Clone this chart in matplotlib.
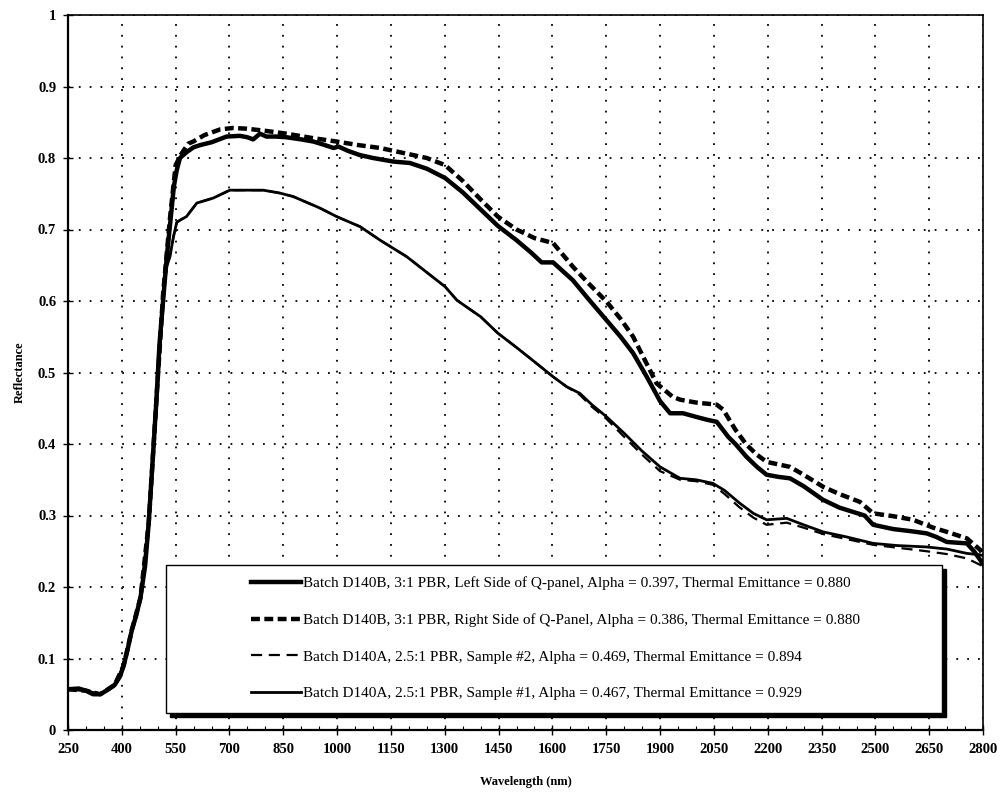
import matplotlib
matplotlib.use("Agg")
import matplotlib.pyplot as plt
from matplotlib.patches import Rectangle
import numpy as np

plt.rcParams['font.family'] = ['Liberation Serif', 'DejaVu Serif']

# D140B, left side of Q-panel (heavy solid)
wl_left = [250, 280, 300, 320, 340, 360, 380, 395, 405, 415, 428, 440, 452, 465, 475,
           485, 495, 505, 515, 525, 535, 545, 553, 562, 580, 600, 618, 650, 692, 729,
           750, 766, 785, 803, 830, 859, 900, 934, 960, 990, 1004, 1030, 1064, 1100, 1157,
           1203, 1250, 1301, 1350, 1400, 1448, 1500, 1540, 1570, 1602, 1657, 1700, 1751, 1790, 1825,
           1863, 1900, 1928, 1964, 2000, 2030, 2058, 2090, 2110, 2141, 2170, 2197, 2230, 2262, 2300,
           2354, 2400, 2438, 2470, 2494, 2550, 2600, 2643, 2670, 2699, 2755, 2775, 2792, 2800]
refl_left = [0.057, 0.058, 0.055, 0.050, 0.050, 0.056, 0.063, 0.075, 0.090, 0.110, 0.140, 0.160, 0.185, 0.230, 0.290,
             0.370, 0.450, 0.540, 0.600, 0.660, 0.710, 0.760, 0.783, 0.800, 0.808, 0.815, 0.818, 0.822, 0.830, 0.831,
             0.829, 0.826, 0.834, 0.830, 0.830, 0.829, 0.826, 0.823, 0.819, 0.814, 0.816, 0.810, 0.804, 0.800, 0.795,
             0.793, 0.785, 0.772, 0.752, 0.728, 0.705, 0.685, 0.668, 0.654, 0.654, 0.629, 0.603, 0.573, 0.550, 0.527,
             0.494, 0.460, 0.443, 0.443, 0.438, 0.434, 0.431, 0.410, 0.400, 0.382, 0.368, 0.357, 0.354, 0.352, 0.341,
             0.322, 0.311, 0.305, 0.300, 0.287, 0.281, 0.278, 0.275, 0.270, 0.263, 0.261, 0.250, 0.238, 0.232]

# D140B, right side of Q-panel (heavy dashed)
wl_right = [250, 300, 340, 380, 405, 428, 452, 475, 495, 515, 535, 550, 565, 585, 599,
            630, 674, 710, 748, 800, 859, 930, 999, 1060, 1120, 1194, 1250, 1301, 1350, 1400,
            1448, 1500, 1550, 1602, 1657, 1700, 1751, 1790, 1825, 1860, 1890, 1935, 1956, 2000, 2058,
            2076, 2110, 2141, 2170, 2197, 2262, 2300, 2355, 2400, 2457, 2494, 2550, 2605, 2661, 2700,
            2755, 2792, 2800]
refl_right = [0.057, 0.055, 0.050, 0.063, 0.090, 0.140, 0.185, 0.290, 0.450, 0.610, 0.720, 0.790, 0.805, 0.820, 0.823,
              0.832, 0.840, 0.842, 0.841, 0.838, 0.834, 0.828, 0.823, 0.818, 0.814, 0.806, 0.800, 0.790, 0.768, 0.742,
              0.718, 0.700, 0.688, 0.681, 0.648, 0.625, 0.599, 0.575, 0.550, 0.515, 0.485, 0.466, 0.462, 0.458, 0.455,
              0.448, 0.420, 0.399, 0.385, 0.375, 0.368, 0.357, 0.340, 0.330, 0.319, 0.303, 0.299, 0.294, 0.283, 0.277,
              0.268, 0.252, 0.245]

# D140A sample #1 (thin solid)
wl_s1 = [250, 300, 340, 380, 405, 428, 452, 475, 490, 500, 510, 518, 525, 534, 544,
         553, 562, 580, 609, 655, 701, 750, 794, 840, 878, 915, 952, 999, 1064, 1120,
         1194, 1250, 1301, 1334, 1400, 1448, 1500, 1550, 1602, 1640, 1676, 1710, 1751, 1800, 1850,
         1900, 1956, 2000, 2047, 2080, 2120, 2160, 2197, 2253, 2300, 2355, 2420, 2494, 2560, 2643,
         2700, 2755, 2792, 2800]
refl_s1 = [0.057, 0.055, 0.050, 0.063, 0.090, 0.140, 0.185, 0.290, 0.400, 0.480, 0.560, 0.620, 0.648, 0.662, 0.690,
           0.710, 0.713, 0.718, 0.737, 0.744, 0.755, 0.755, 0.755, 0.751, 0.746, 0.738, 0.730, 0.718, 0.704, 0.685,
           0.662, 0.640, 0.620, 0.601, 0.578, 0.555, 0.535, 0.515, 0.494, 0.480, 0.471, 0.455, 0.438, 0.415, 0.390,
           0.368, 0.352, 0.350, 0.345, 0.335, 0.318, 0.303, 0.294, 0.296, 0.287, 0.277, 0.270, 0.261, 0.258, 0.256,
           0.253, 0.247, 0.245, 0.244]

# D140A sample #2 (thin dashed)
wl_s2 = [250, 300, 340, 380, 405, 428, 452, 475, 490, 500, 510, 518, 525, 534, 544,
         553, 562, 580, 609, 655, 701, 750, 794, 840, 878, 915, 952, 999, 1064, 1120,
         1194, 1250, 1301, 1334, 1400, 1448, 1500, 1550, 1602, 1640, 1676, 1710, 1751, 1800, 1850,
         1900, 1956, 2000, 2047, 2080, 2120, 2160, 2197, 2253, 2300, 2355, 2420, 2494, 2560, 2643,
         2700, 2755, 2792, 2800]
refl_s2 = [0.057, 0.055, 0.050, 0.063, 0.090, 0.140, 0.185, 0.290, 0.400, 0.480, 0.560, 0.620, 0.648, 0.662, 0.690,
           0.710, 0.713, 0.718, 0.737, 0.744, 0.755, 0.755, 0.755, 0.751, 0.746, 0.738, 0.730, 0.718, 0.704, 0.685,
           0.662, 0.640, 0.620, 0.601, 0.578, 0.555, 0.535, 0.515, 0.494, 0.480, 0.469, 0.452, 0.435, 0.410, 0.385,
           0.362, 0.350, 0.348, 0.343, 0.330, 0.312, 0.297, 0.287, 0.290, 0.283, 0.274, 0.267, 0.259, 0.255, 0.250,
           0.246, 0.240, 0.231, 0.228]

labels = [
    "Batch D140B, 3:1 PBR, Left Side of Q-panel, Alpha = 0.397, Thermal Emittance = 0.880",
    "Batch D140B, 3:1 PBR, Right Side of Q-Panel, Alpha = 0.386, Thermal Emittance = 0.880",
    "Batch D140A, 2.5:1 PBR, Sample #2, Alpha = 0.469, Thermal Emittance = 0.894",
    "Batch D140A, 2.5:1 PBR, Sample #1, Alpha = 0.467, Thermal Emittance = 0.929",
]

x_ticks = np.arange(250, 2801, 150)
y_ticks = np.round(np.arange(0, 1.01, 0.1), 1)
y_ticklabels = ['0'] + ['%.1f' % v for v in y_ticks[1:-1]] + ['1']

W, H = 1001, 796
fig = plt.figure(figsize=(W / 100, H / 100), dpi=100)
ax = fig.add_axes([68 / W, (H - 730) / H, 915 / W, 715 / H])

ax.plot(wl_s1, refl_s1, color='black', lw=2.0, label=labels[3], zorder=2)
ax.plot(wl_s2, refl_s2, color='black', lw=1.6, dashes=(5, 3), label=labels[2], zorder=2)
ax.plot(wl_right, refl_right, color='black', lw=3.2, dashes=(2, 1), label=labels[1], zorder=2)
ax.plot(wl_left, refl_left, color='black', lw=3.2, label=labels[0], zorder=2)

ax.set_xlim(250, 2800)
ax.set_ylim(0, 1)
ax.set_xticks(x_ticks)
ax.set_xticks(np.arange(250, 2801, 50), minor=True)
ax.set_yticks(y_ticks)
ax.set_yticklabels(y_ticklabels)
ax.grid(True, which='major', color='black', lw=1.3, linestyle=(0, (1, 5)))
ax.tick_params(which='major', direction='inout', length=7, width=1, labelsize=10.5)
ax.tick_params(which='minor', axis='x', direction='in', length=3, width=0.8)
for lab in ax.get_xticklabels() + ax.get_yticklabels():
    lab.set_fontweight('bold')
ax.tick_params(axis='x', pad=6)
ax.tick_params(axis='y', pad=5)
for sp in ax.spines.values():
    sp.set_linewidth(1.2)
ax.spines['left'].set_linewidth(1.6)
ax.spines['bottom'].set_linewidth(1.6)

ax.set_xlabel('Wavelength (nm)', fontsize=9, fontweight='bold', labelpad=14)
ax.set_ylabel('Reflectance', fontsize=9, fontweight='bold', labelpad=9)

# legend box with a dark drop shadow
bx, by, bw, bh = 166 / W, (H - 713) / H, 776 / W, 148 / H
shadow = Rectangle((bx + 4 / W, by - 4 / H), bw, bh, transform=fig.transFigure,
                   facecolor='black', edgecolor='black', zorder=3)
box = Rectangle((bx, by), bw, bh, transform=fig.transFigure,
                facecolor='white', edgecolor='black', lw=1.0, zorder=3.5)
ax.add_patch(shadow)
ax.add_patch(box)

handles, labs = ax.get_legend_handles_labels()
order = [3, 2, 1, 0]
leg = ax.legend([handles[i] for i in order], [labs[i] for i in order],
                loc='upper left', bbox_to_anchor=(243 / W, 1 - 569 / H),
                bbox_transform=fig.transFigure, frameon=False, borderpad=0,
                handlelength=3.3, handletextpad=0.1, labelspacing=1.5,
                prop={'family': 'Liberation Serif', 'size': 11})
leg.set_zorder(5)

fig.savefig('out.png', dpi=100)
